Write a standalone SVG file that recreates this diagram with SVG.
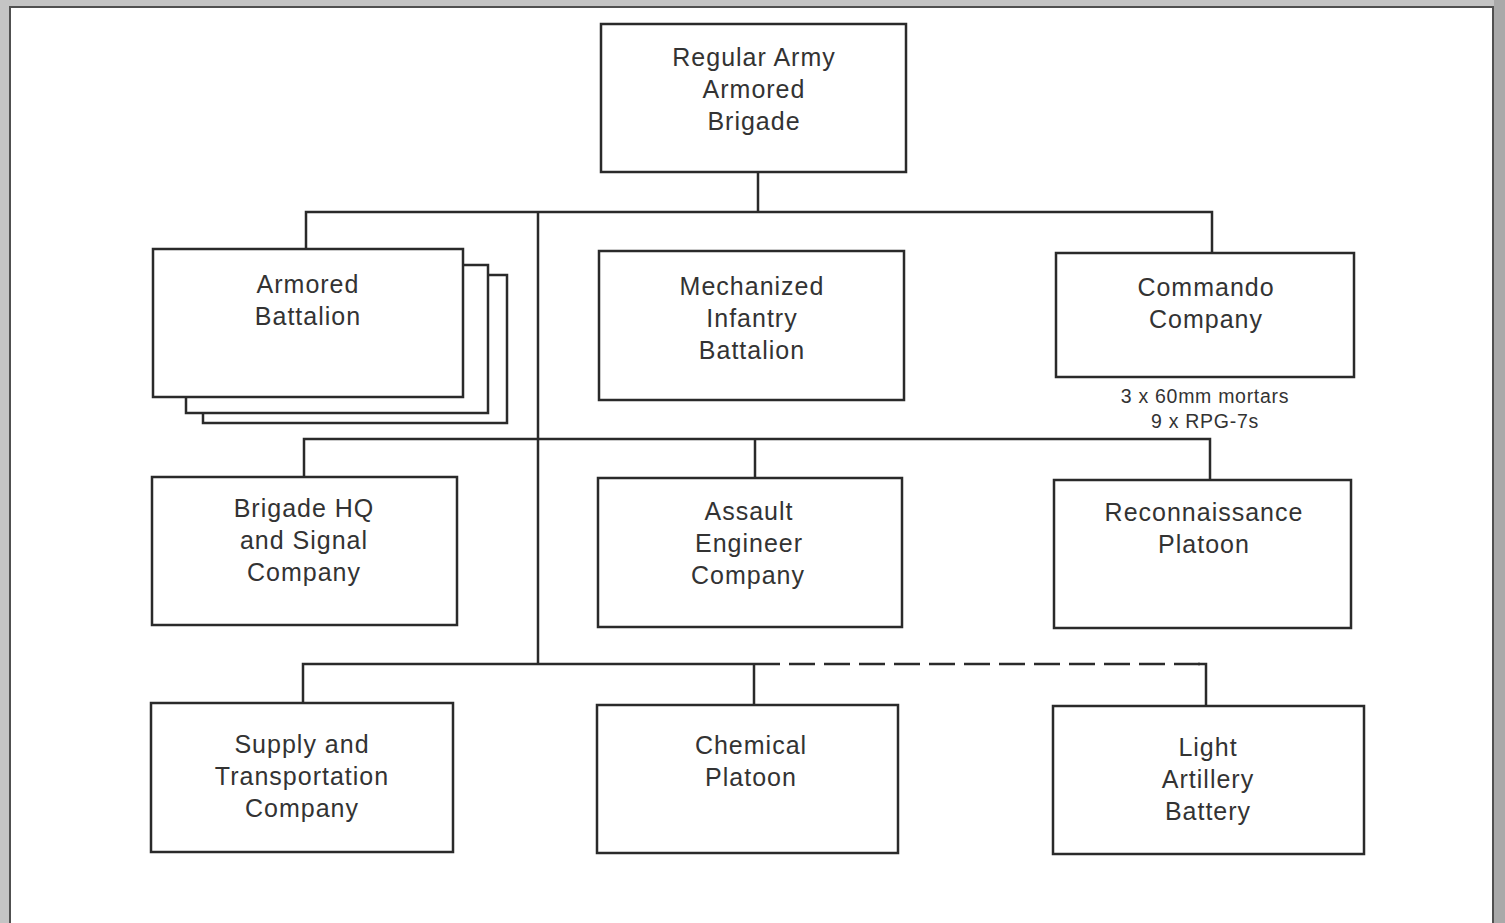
<svg xmlns="http://www.w3.org/2000/svg" width="1505" height="923" viewBox="0 0 1505 923">
<style>
.box{fill:#fff;stroke:#2a2a2a;stroke-width:2.5}
.ln{fill:none;stroke:#2a2a2a;stroke-width:2.5}
.dash{fill:none;stroke:#2a2a2a;stroke-width:2.5;stroke-dasharray:26 9}
text{font-family:"Liberation Sans",Arial,sans-serif;fill:#333;text-anchor:middle}
.t{font-size:25px;letter-spacing:1px}
.s{font-size:19.5px;letter-spacing:0.7px}
</style>
<rect x="0" y="0" width="1505" height="923" fill="#c4c4c4"/>
<rect x="1494" y="0" width="11" height="923" fill="#a9a9a9"/>
<rect x="10" y="7" width="1483" height="930" fill="#fff" stroke="#505050" stroke-width="2"/>
<g id="connectors">
<path class="ln" d="M758 172V212M306 250V212H1212V253M538 212V664"/>
<path class="ln" d="M304 477V439H1210V480M755 439V478"/>
<path class="ln" d="M303 703V664H780M754 664V705"/>
<path class="dash" d="M789 664H1206"/>
<path class="ln" d="M1198 664H1206V706"/>
</g>
<g id="brigade">
<rect class="box" x="601" y="24" width="305" height="148"/>
<text class="t" x="754" y="66">Regular Army</text>
<text class="t" x="754" y="98">Armored</text>
<text class="t" x="754" y="130">Brigade</text>
</g>
<g id="armored-battalion">
<rect class="box" x="203" y="275" width="304" height="148"/>
<rect class="box" x="186" y="265" width="302" height="148"/>
<rect class="box" x="153" y="249" width="310" height="148"/>
<text class="t" x="308" y="293">Armored</text>
<text class="t" x="308" y="325">Battalion</text>
</g>
<g id="mech-infantry">
<rect class="box" x="599" y="251" width="305" height="149"/>
<text class="t" x="752" y="295">Mechanized</text>
<text class="t" x="752" y="327">Infantry</text>
<text class="t" x="752" y="359">Battalion</text>
</g>
<g id="commando">
<rect class="box" x="1056" y="253" width="298" height="124"/>
<text class="t" x="1206" y="296">Commando</text>
<text class="t" x="1206" y="328">Company</text>
<text class="s" x="1205" y="403">3 x 60mm mortars</text>
<text class="s" x="1205" y="428">9 x RPG-7s</text>
</g>
<g id="brigade-hq">
<rect class="box" x="152" y="477" width="305" height="148"/>
<text class="t" x="304" y="517">Brigade HQ</text>
<text class="t" x="304" y="549">and Signal</text>
<text class="t" x="304" y="581">Company</text>
</g>
<g id="assault-engineer">
<rect class="box" x="598" y="478" width="304" height="149"/>
<text class="t" x="749" y="520">Assault</text>
<text class="t" x="749" y="552">Engineer</text>
<text class="t" x="748" y="584">Company</text>
</g>
<g id="recon">
<rect class="box" x="1054" y="480" width="297" height="148"/>
<text class="t" x="1204" y="521">Reconnaissance</text>
<text class="t" x="1204" y="553">Platoon</text>
</g>
<g id="supply">
<rect class="box" x="151" y="703" width="302" height="149"/>
<text class="t" x="302" y="753">Supply and</text>
<text class="t" x="302" y="785">Transportation</text>
<text class="t" x="302" y="817">Company</text>
</g>
<g id="chemical">
<rect class="box" x="597" y="705" width="301" height="148"/>
<text class="t" x="751" y="754">Chemical</text>
<text class="t" x="751" y="786">Platoon</text>
</g>
<g id="light-artillery">
<rect class="box" x="1053" y="706" width="311" height="148"/>
<text class="t" x="1208" y="756">Light</text>
<text class="t" x="1208" y="788">Artillery</text>
<text class="t" x="1208" y="820">Battery</text>
</g>
</svg>
